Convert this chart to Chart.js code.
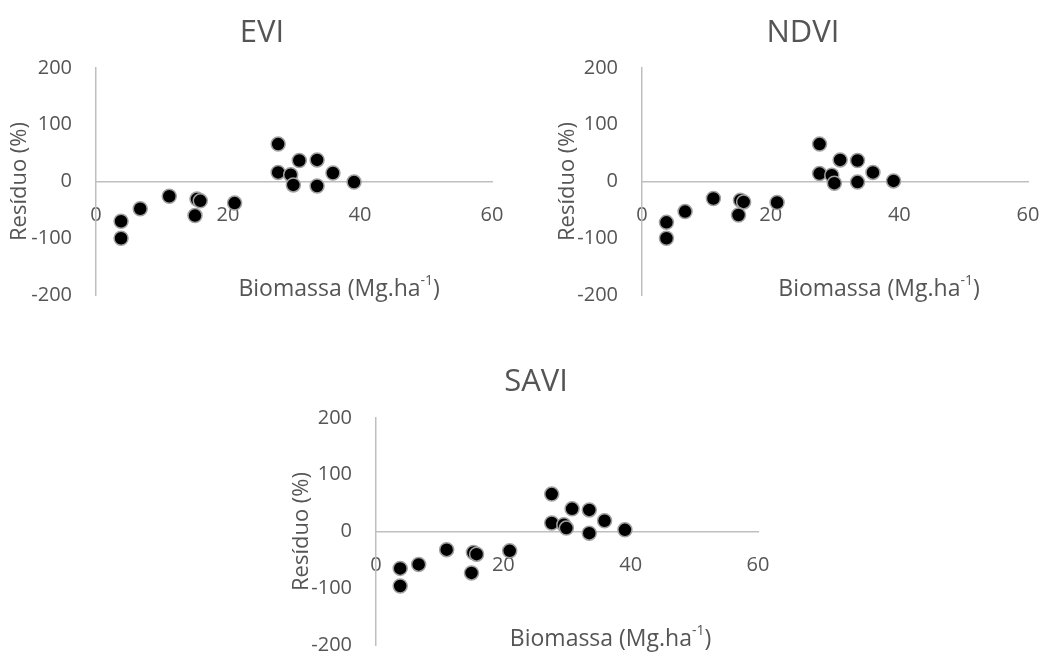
<!DOCTYPE html>
<html lang="pt">
<head>
<meta charset="utf-8">
<title>Resíduo x Biomassa</title>
<script src="https://cdn.jsdelivr.net/npm/chart.js@4.4.1/dist/chart.umd.min.js"></script>
<style>
    html, body { margin: 0; padding: 0; background: #fff; }
    body { width: 1054px; height: 654px; overflow: hidden; position: relative; }
    canvas { position: absolute; }
</style>
</head>
<body>
<canvas id="chart-evi" width="520" height="320" style="left:0;top:0"></canvas>
<canvas id="chart-ndvi" width="506" height="320" style="left:548px;top:0"></canvas>
<canvas id="chart-savi" width="508" height="320" style="left:282px;top:349px"></canvas>

<script>
// ======== DONNÉES ========
const biomassa = [3.8, 3.8, 6.7, 11.1, 15.3, 15.8, 15.0, 21.0, 27.6, 27.6, 29.5, 29.9, 30.8, 33.5, 33.5, 35.9, 39.1];

const residuoEVI  = [-70, -100, -48, -26, -31, -34, -60, -38, 66, 16, 12, -6, 37, 38, -8, 15, -1];
const residuoNDVI = [-72, -100, -53, -30, -33, -36, -59, -37, 66, 14, 11, -3, 38, 37, -1, 16, 1];
const residuoSAVI = [-65, -96, -58, -32, -37, -40, -73, -34, 66, 15, 12, 6, 40, 38, -3, 19, 3];

const xTicks = [0, 20, 40, 60];
const yTicks = [-200, -100, 0, 100, 200];

const gris = '#555555';
const police = '"Open Sans", "Liberation Sans", sans-serif';

// Petit plugin : titre du graphique + titre de l'axe X (avec exposant)
const textesPlugin = {
    id: 'textes',
    afterDraw(chart, args, opts) {
        const ctx = chart.ctx;
        const area = chart.chartArea;
        ctx.save();
        ctx.fillStyle = gris;
        ctx.textBaseline = 'middle';

        // titre
        ctx.font = '31px ' + police;
        ctx.textAlign = 'center';
        ctx.fillText(opts.titre, opts.titreX, 33);

        // titre de l'axe X : "Biomassa (Mg.ha" + "-1" + ")"
        const base = 'Biomassa (Mg.ha';
        const exp = '-1';
        const fin = ')';
        ctx.textAlign = 'left';
        ctx.font = '23px ' + police;
        const wBase = ctx.measureText(base).width;
        const wFin = ctx.measureText(fin).width;
        ctx.font = '14px ' + police;
        const wExp = ctx.measureText(exp).width;
        const total = wBase + wExp + wFin;
        let x = area.left + 0.614 * (area.right - area.left) - total / 2;
        const y = area.bottom - 6;
        ctx.font = '23px ' + police;
        ctx.fillText(base, x, y);
        x += wBase;
        ctx.font = '14px ' + police;
        ctx.fillText(exp, x, y - 8);
        x += wExp;
        ctx.font = '23px ' + police;
        ctx.fillText(fin, x, y);
        ctx.restore();
    }
};

function creerGraphique(id, titre, residuo, reglages) {
    const points = biomassa.map((b, i) => ({ x: b, y: residuo[i] }));

    return new Chart(document.getElementById(id), {
        type: 'scatter',
        data: {
            datasets: [{
                label: titre,
                data: points,
                backgroundColor: '#000000',
                borderColor: '#a0a0a0',
                borderWidth: 1.5,
                pointRadius: 7,
                pointHoverRadius: 7
            }]
        },
        options: {
            responsive: false,
            animation: false,
            layout: {
                padding: { top: reglages.haut, right: reglages.droite, bottom: reglages.bas, left: 0 }
            },
            scales: {
                x: {
                    type: 'linear',
                    position: { y: 0 },
                    min: xTicks[0],
                    max: xTicks[xTicks.length - 1],
                    afterBuildTicks: s => { s.ticks = xTicks.map(v => ({ value: v })); },
                    // on ne veut pas que les étiquettes poussent la zone du graphique
                    afterFit: s => { s.paddingLeft = 0; s.paddingRight = 0; },
                    grid: { display: false, drawTicks: false },
                    border: { display: true, color: '#bfbfbf', width: 1.5 },
                    ticks: { color: gris, font: { family: police, size: 20 }, padding: 22, maxRotation: 0 }
                },
                y: {
                    type: 'linear',
                    position: 'left',
                    min: yTicks[0],
                    max: yTicks[yTicks.length - 1],
                    afterBuildTicks: s => { s.ticks = yTicks.map(v => ({ value: v })); },
                    afterFit: s => {
                        s.width = reglages.largeurY;
                        s.paddingTop = 0;
                        s.paddingBottom = 0;
                    },
                    grid: { display: false, drawTicks: false },
                    border: { display: true, color: '#bfbfbf', width: 1.5 },
                    ticks: { color: gris, font: { family: police, size: 20 }, padding: 24 },
                    title: {
                        display: true,
                        text: 'Resíduo (%)',
                        color: gris,
                        font: { family: police, size: 22 },
                        padding: { top: 7, bottom: 0 }
                    }
                }
            },
            plugins: {
                legend: { display: false },
                tooltip: { enabled: false },
                textes: { titre: titre, titreX: reglages.titreX }
            }
        },
        plugins: [textesPlugin]
    });
}

creerGraphique('chart-evi', 'EVI', residuoEVI, { largeurY: 96, haut: 68, droite: 28, bas: 25, titreX: 262 });
creerGraphique('chart-ndvi', 'NDVI', residuoNDVI, { largeurY: 94, haut: 68, droite: 26, bas: 25, titreX: 255 });
creerGraphique('chart-savi', 'SAVI', residuoSAVI, { largeurY: 94, haut: 69, droite: 32, bas: 24, titreX: 254 });
</script>
</body>
</html>
